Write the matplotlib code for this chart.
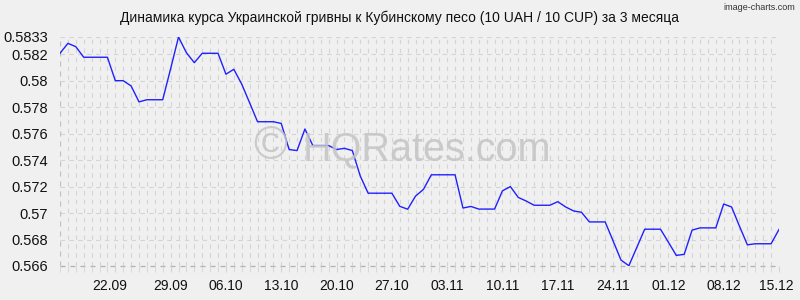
import matplotlib
matplotlib.use("Agg")
import matplotlib.pyplot as plt
import matplotlib.transforms as mtransforms
import pandas as pd

plt.rcParams['font.family'] = ['Liberation Sans', 'DejaVu Sans']

title = "Динамика курса Украинской гривны к Кубинскому песо (10 UAH / 10 CUP) за 3 месяца"
start_date = "2024-09-15"
end_date = "2024-12-15"

rates = [
    0.58207, 0.58282, 0.58257, 0.58177, 0.58177, 0.58177, 0.58177, 0.58000,
    0.58000, 0.57960, 0.57840, 0.57856, 0.57856, 0.57856, 0.58090, 0.58330,
    0.58211, 0.58136, 0.58207, 0.58207, 0.58207, 0.58049, 0.58086, 0.57974,
    0.57833, 0.57690, 0.57690, 0.57690, 0.57677, 0.57480, 0.57472, 0.57635,
    0.57510, 0.57510, 0.57510, 0.57480, 0.57489, 0.57472, 0.57280, 0.57150,
    0.57150, 0.57150, 0.57150, 0.57051, 0.57029, 0.57128, 0.57179, 0.57289,
    0.57289, 0.57289, 0.57289, 0.57038, 0.57050, 0.57030, 0.57030, 0.57030,
    0.57168, 0.57200, 0.57118, 0.57091, 0.57059, 0.57059, 0.57059, 0.57086,
    0.57046, 0.57016, 0.57006, 0.56933, 0.56933, 0.56933, 0.56790, 0.56645,
    0.56602, 0.56740, 0.56878, 0.56878, 0.56878, 0.56780, 0.56680, 0.56688,
    0.56871, 0.56888, 0.56888, 0.56888, 0.57068, 0.57046, 0.56900, 0.56760,
    0.56768, 0.56768, 0.56768, 0.56876,
]

x_tick_dates = ["2024-09-22", "2024-09-29", "2024-10-06", "2024-10-13", "2024-10-20",
                "2024-10-27", "2024-11-03", "2024-11-10", "2024-11-17", "2024-11-24",
                "2024-12-01", "2024-12-08", "2024-12-15"]
x_tick_labels = ["22.09", "29.09", "06.10", "13.10", "20.10", "27.10", "03.11",
                 "10.11", "17.11", "24.11", "01.12", "08.12", "15.12"]
y_ticks = [0.566, 0.568, 0.570, 0.572, 0.574, 0.576, 0.578, 0.580, 0.582, 0.5833]
y_tick_labels = ["0.566", "0.568", "0.57", "0.572", "0.574", "0.576", "0.578",
                 "0.58", "0.582", "0.5833"]

dates = pd.date_range(start_date, end_date, freq="D")

bg = "#f0f0f0"
fig = plt.figure(figsize=(8, 3), dpi=100, facecolor=bg)
ax = fig.add_axes([60/800, 1 - 266/300, 719/800, (266 - 37)/300])
ax.set_facecolor(bg)

ax.set_xlim(dates[0], dates[-1])
ax.set_ylim(0.566, 0.5833)

# grid: vertical dashed every day, horizontal at y ticks
for d in dates[1:]:
    ax.axvline(d, color="#d4d4d4", lw=0.8, ls=(0, (4, 4)), zorder=0)
for yv in y_ticks[1:]:
    ax.axhline(yv, color="#d4d4d4", lw=0.8, ls=(0, (4, 4)), zorder=0)
ax.axhline(0.566, color="#b0b0b0", lw=0.9, ls=(0, (4, 4)), zorder=1, clip_on=False)
ax.axvline(dates[0], color="#c0c0c0", lw=0.9, ls=(0, (4, 4)), zorder=1)

ax.plot(dates, rates, color="#2020ff", lw=1.0, zorder=3)

for s in ax.spines.values():
    s.set_visible(False)

ax.set_xticks(pd.to_datetime(x_tick_dates))
ax.set_xticklabels(x_tick_labels)
ax.set_xticks(dates, minor=True)
ax.tick_params(axis="x", which="major", length=4, color="#d4d4d4", pad=5.5,
               labelsize=10, labelcolor="#111111")
ax.tick_params(axis="x", which="minor", length=4, color="#d4d4d4")
ax.set_yticks(y_ticks)
ax.set_yticklabels(y_tick_labels)
ax.tick_params(axis="y", length=0, pad=8.6, labelsize=10.5, labelcolor="#111111")

# nudge first and last x labels like the reference
xlabels = ax.get_xticklabels()
xlabels[0].set_transform(xlabels[0].get_transform() +
                         mtransforms.ScaledTranslation(-6/100, 0, fig.dpi_scale_trans))
xlabels[-1].set_transform(xlabels[-1].get_transform() +
                          mtransforms.ScaledTranslation(-3/100, 0, fig.dpi_scale_trans))

fig.text(0.5, 1 - 18/300, title, ha="center", va="center", fontsize=10, color="#111111")
fig.text(795/800, 1 - 8/300, "image-charts.com", ha="right", va="center",
         fontsize=6.5, color="#333333")

wm_color = "#c4c4c4"
fig.text(270/800, 1 - 147/300, "©", ha="center", va="center",
         fontsize=33, color=wm_color, alpha=0.85, zorder=2)
fig.text(303/800, 1 - 160/300, "HQRates.com", ha="left", va="baseline",
         fontsize=28.5, color=wm_color, alpha=0.85, zorder=2)

fig.savefig("out.png", dpi=100, facecolor=bg)
